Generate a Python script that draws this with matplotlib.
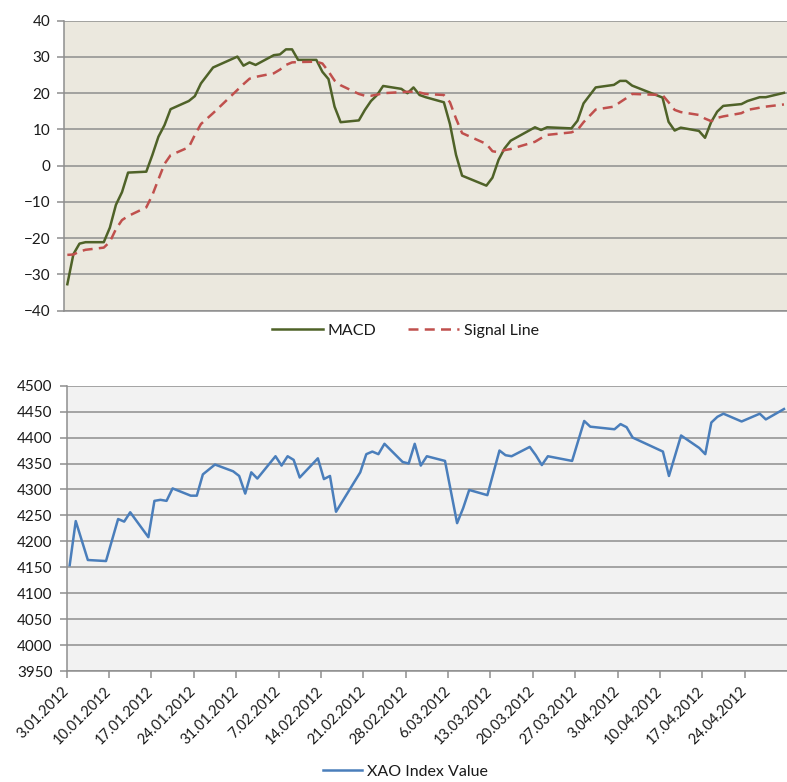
import matplotlib
matplotlib.use('Agg')
import matplotlib.pyplot as plt
import pandas as pd

plt.rcParams['font.family'] = ['Lato', 'DejaVu Sans']

# MACD / signal line (top panel)
macd_dates = ['2012-01-03', '2012-01-04', '2012-01-05', '2012-01-06', '2012-01-09', '2012-01-10',
              '2012-01-11', '2012-01-12', '2012-01-13', '2012-01-16', '2012-01-17', '2012-01-18',
              '2012-01-19', '2012-01-20', '2012-01-23', '2012-01-24', '2012-01-25', '2012-01-27',
              '2012-01-31', '2012-02-01', '2012-02-02', '2012-02-03', '2012-02-06', '2012-02-07',
              '2012-02-08', '2012-02-09', '2012-02-10', '2012-02-13', '2012-02-14', '2012-02-15',
              '2012-02-16', '2012-02-17', '2012-02-20', '2012-02-21', '2012-02-22', '2012-02-23',
              '2012-02-24', '2012-02-27', '2012-02-28', '2012-02-29', '2012-03-01', '2012-03-02',
              '2012-03-05', '2012-03-06', '2012-03-07', '2012-03-08', '2012-03-12', '2012-03-13',
              '2012-03-14', '2012-03-15', '2012-03-16', '2012-03-20', '2012-03-21', '2012-03-22',
              '2012-03-26', '2012-03-27', '2012-03-28', '2012-03-30', '2012-04-02', '2012-04-03',
              '2012-04-04', '2012-04-05', '2012-04-10', '2012-04-11', '2012-04-12', '2012-04-13',
              '2012-04-16', '2012-04-17', '2012-04-18', '2012-04-19', '2012-04-20', '2012-04-23',
              '2012-04-24', '2012-04-26', '2012-04-27', '2012-04-30']
macd = [-32.7, -24.4, -21.5, -21.1, -21.1, -17.1,
        -10.8, -7.3, -1.9, -1.65, 2.95, 8.0,
        11.2, 15.6, 17.85, 19.2, 22.7, 27.1,
        30.1, 27.6, 28.5, 27.8, 30.5, 30.7,
        32.1, 32.1, 29.2, 29.2, 25.9, 23.9,
        16.3, 12.0, 12.5, 15.4, 17.85, 19.5,
        22.0, 21.2, 20.0, 21.6, 19.5, 18.9,
        17.5, 11.5, 3.0, -2.75, -5.5, -3.3,
        1.6, 4.8, 6.9, 10.6, 9.85, 10.6,
        10.3, 12.4, 17.2, 21.6, 22.3, 23.4,
        23.4, 22.1, 18.8, 12.1, 9.7, 10.5,
        9.6, 7.7, 12.0, 14.9, 16.5, 17.0,
        17.85, 18.9, 18.9, 20.1]
signal = [-24.6, -24.5, -23.7, -23.2, -22.6, -21.0,
          -17.5, -15.0, -13.9, -11.5, -8.1, -3.75,
          0.5, 2.9, 5.1, 8.5, 11.5, 14.5,
          20.9, 22.5, 24.0, 24.5, 25.5, 26.5,
          27.8, 28.5, 28.6, 28.7, 28.2, 26.0,
          23.5, 22.2, 19.8, 19.3, 19.3, 19.6,
          20.0, 20.3, 20.4, 20.4, 20.2, 19.8,
          19.5, 17.5, 13.0, 9.0, 6.0, 4.0,
          3.7, 4.3, 4.6, 6.6, 7.6, 8.5,
          9.2, 9.85, 12.0, 15.5, 16.3, 17.5,
          18.6, 19.8, 19.5, 17.5, 15.4, 14.8,
          14.0, 13.0, 12.3, 13.2, 13.6, 14.5,
          15.4, 16.0, 16.3, 16.9]

# XAO index (bottom panel)
xao_dates = ['2012-01-03', '2012-01-04', '2012-01-06', '2012-01-09', '2012-01-11', '2012-01-12',
             '2012-01-13', '2012-01-16', '2012-01-17', '2012-01-18', '2012-01-19', '2012-01-20',
             '2012-01-23', '2012-01-24', '2012-01-25', '2012-01-27', '2012-01-30', '2012-01-31',
             '2012-02-01', '2012-02-02', '2012-02-03', '2012-02-06', '2012-02-07', '2012-02-08',
             '2012-02-09', '2012-02-10', '2012-02-13', '2012-02-14', '2012-02-15', '2012-02-16',
             '2012-02-20', '2012-02-21', '2012-02-22', '2012-02-23', '2012-02-24', '2012-02-27',
             '2012-02-28', '2012-02-29', '2012-03-01', '2012-03-02', '2012-03-05', '2012-03-07',
             '2012-03-08', '2012-03-09', '2012-03-12', '2012-03-14', '2012-03-15', '2012-03-16',
             '2012-03-19', '2012-03-20', '2012-03-21', '2012-03-22', '2012-03-26', '2012-03-28',
             '2012-03-29', '2012-04-02', '2012-04-03', '2012-04-04', '2012-04-05', '2012-04-10',
             '2012-04-11', '2012-04-13', '2012-04-16', '2012-04-17', '2012-04-18', '2012-04-19',
             '2012-04-20', '2012-04-23', '2012-04-26', '2012-04-27', '2012-04-30']
xao = [4154, 4239, 4164, 4162, 4243, 4238,
       4256, 4208, 4278, 4280, 4278, 4302,
       4288, 4288, 4329, 4348, 4335, 4326,
       4292, 4333, 4321, 4364, 4346, 4364,
       4357, 4323, 4360, 4320, 4326, 4257,
       4333, 4368, 4373, 4368, 4388, 4353,
       4350, 4388, 4346, 4364, 4355, 4235,
       4264, 4299, 4289, 4375, 4366, 4364,
       4382, 4366, 4347, 4364, 4355, 4432,
       4421, 4416, 4426, 4420, 4400, 4373,
       4326, 4404, 4380, 4368, 4429, 4440,
       4446, 4431, 4446, 4435, 4455]

tick_dates = pd.date_range('2012-01-03', periods=17, freq='7D')
x_start, x_end = pd.Timestamp('2012-01-03'), pd.Timestamp('2012-05-01')

# points sit in the middle of each day slot
half = pd.Timedelta(hours=12)
t_macd = pd.to_datetime(macd_dates) + half
t_xao = pd.to_datetime(xao_dates) + half

grid_c = '#8E8E8E'
text_c = '#1A1A1A'

fig = plt.figure(figsize=(7.87, 7.82), dpi=100)
ax1 = fig.add_axes([0.0817, 0.6027, 0.9183, 0.3708])
ax2 = fig.add_axes([0.0847, 0.1419, 0.9153, 0.3649])

# top panel
ax1.set_facecolor('#EBE8DE')
ax1.plot(t_macd, macd, color='#4F6228', lw=1.8, label='MACD', zorder=3)
ax1.plot(t_macd, signal, color='#C0504D', lw=1.8, dashes=(4, 2.5), label='Signal Line', zorder=3)
ax1.set_ylim(-40, 40)
ax1.set_yticks(range(-40, 41, 10))
ax1.set_xlim(x_start, x_end)
ax1.set_xticks([])

# bottom panel
ax2.set_facecolor('#F2F2F2')
ax2.plot(t_xao, xao, color='#4A7EBB', lw=1.8, label='XAO Index Value', zorder=3)
ax2.set_ylim(3950, 4500)
ax2.set_yticks(range(3950, 4501, 50))
ax2.set_xlim(x_start, x_end)
ax2.set_xticks(tick_dates)
ax2.set_xticklabels([d.strftime('%-d.%m.%Y') for d in tick_dates],
                    rotation=45, ha='right', va='center', rotation_mode='anchor')

for ax in (ax1, ax2):
    ax.grid(axis='y', color=grid_c, lw=1.1)
    ax.set_axisbelow(True)
    for s in ('top', 'right'):
        ax.spines[s].set_visible(False)
    ax.spines['left'].set_color(grid_c)
    ax.spines['bottom'].set_color(grid_c)
    ax.spines['left'].set_linewidth(1.1)
    ax.spines['bottom'].set_linewidth(1.1)
    ax.tick_params(axis='both', colors=grid_c, labelcolor=text_c, labelsize=11,
                   length=5, width=1.1, direction='out', pad=5)

ax2.tick_params(axis='x', labelsize=10.5, pad=8)

fig.legend(*ax1.get_legend_handles_labels(), loc='center', bbox_to_anchor=(0.515, 0.577),
           ncol=2, frameon=False, fontsize=11.5, handlelength=3.2, columnspacing=2.0,
           handletextpad=0.3, labelcolor=text_c)
fig.legend(*ax2.get_legend_handles_labels(), loc='center', bbox_to_anchor=(0.515, 0.013),
           frameon=False, fontsize=11.5, handlelength=2.5, handletextpad=0.3, labelcolor=text_c)

fig.savefig('out.png', dpi=100)
